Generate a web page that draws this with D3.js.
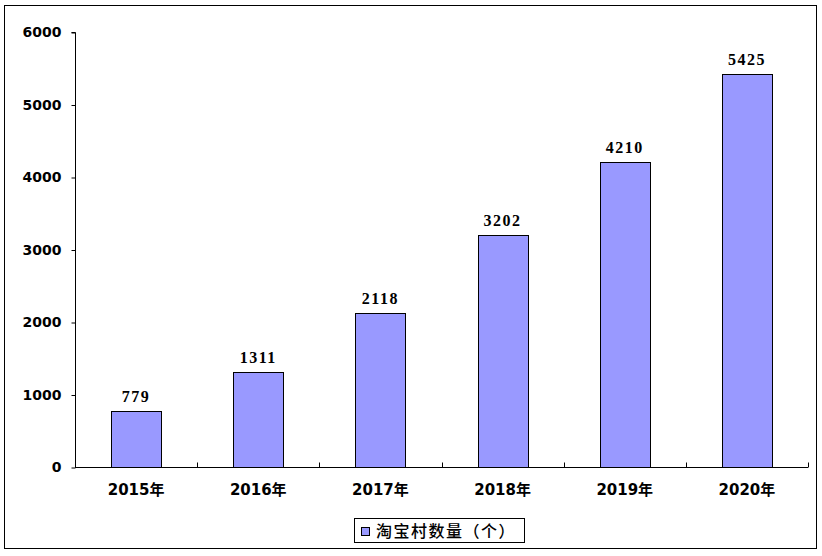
<!DOCTYPE html>
<html><head><meta charset="utf-8">
<script src="https://cdn.jsdelivr.net/npm/d3@7"></script>
<style>body{margin:0;background:#fff}svg{display:block}</style>
</head><body><div id="chart"></div>
<script>
const categories = ["2015年","2016年","2017年","2018年","2019年","2020年"];
const values = [779, 1311, 2118, 3202, 4210, 5425];
const yTicks = [0, 1000, 2000, 3000, 4000, 5000, 6000];
const seriesName = "淘宝村数量（个）";

const W = 822, H = 556;
const svg = d3.select("#chart").append("svg").attr("width", W).attr("height", H);
svg.append("rect").attr("x", 4.5).attr("y", 5.5).attr("width", 812).attr("height", 543)
  .attr("fill", "#fff").attr("stroke", "#000").attr("stroke-width", 1);

const x0 = 75, x1 = 808, yTop = 32, yBot = 467;
const x = d3.scaleBand().domain(categories).range([x0, x1]).padding(0);
const y = d3.scaleLinear().domain([0, 6000]).range([yBot, yTop]);
const barW = x.bandwidth() * 0.41;

const g = svg.append("g");
// bars
g.selectAll("rect.bar").data(values).join("rect").attr("class","bar")
  .attr("x", (d,i) => Math.round(x(categories[i]) + (x.bandwidth()-barW)/2) + 0.5)
  .attr("y", d => Math.round(y(d)) + 0.5)
  .attr("width", Math.round(barW))
  .attr("height", d => Math.round(yBot - y(d)))
  .attr("fill", "#9999FF").attr("stroke", "#000").attr("stroke-width", 1);

// y axis
const yAxis = d3.axisLeft(y).tickValues(yTicks).tickSize(4).tickPadding(10).tickFormat(d3.format("d"));
const ya = svg.append("g").attr("transform", `translate(${x0 + 0.5},0.5)`).call(yAxis);
ya.select(".domain").attr("d", `M-4,${yTop}H0V${yBot}`).attr("stroke","#000");
ya.selectAll(".tick line").attr("stroke","#000");
ya.selectAll(".tick text").attr("fill","#000")
  .style("font-family","'DejaVu Sans',sans-serif").style("font-weight","bold").style("font-size","14px");

// x axis
const xAxis = d3.axisBottom(x).tickSize(0).tickPadding(17);
const xa = svg.append("g").attr("transform", `translate(0,${yBot + 0.5})`).call(xAxis);
xa.select(".domain").attr("d", `M${x0},0H${x1}`).attr("stroke","#000");
xa.selectAll(".tick text").attr("fill","#000")
  .style("font-family","'DejaVu Sans','Noto Sans CJK SC',sans-serif").style("font-weight","bold").style("font-size","15px");
// boundary ticks
const bounds = categories.map(c => x(c)).slice(1).concat([x1]);
xa.selectAll("line.bt").data(bounds).join("line").attr("class","bt")
  .attr("x1", d => Math.round(d) + 0.5).attr("x2", d => Math.round(d) + 0.5)
  .attr("y1", 0).attr("y2", -5).attr("stroke", "#000");

// value labels
g.selectAll("text.val").data(values).join("text").attr("class","val")
  .attr("x", (d,i) => x(categories[i]) + x.bandwidth()/2)
  .attr("y", d => y(d) - 9)
  .attr("text-anchor","middle")
  .style("font-family","'Liberation Serif',serif").style("font-weight","bold")
  .style("font-size","16px").style("letter-spacing","1.5px")
  .text(d => d);

// legend
const lg = svg.append("g");
lg.append("rect").attr("x", 354.5).attr("y", 518.5).attr("width", 170).attr("height", 24)
  .attr("fill","#fff").attr("stroke","#000");
lg.append("rect").attr("x", 361.5).attr("y", 527.5).attr("width", 8).attr("height", 8)
  .attr("fill","#9999FF").attr("stroke","#000");
lg.append("text").attr("x", 376).attr("y", 537)
  .style("font-family","'Noto Sans CJK SC',sans-serif").style("font-size","16px").style("font-weight","500")
  .style("letter-spacing","1.5px").text(seriesName);
</script></body></html>
